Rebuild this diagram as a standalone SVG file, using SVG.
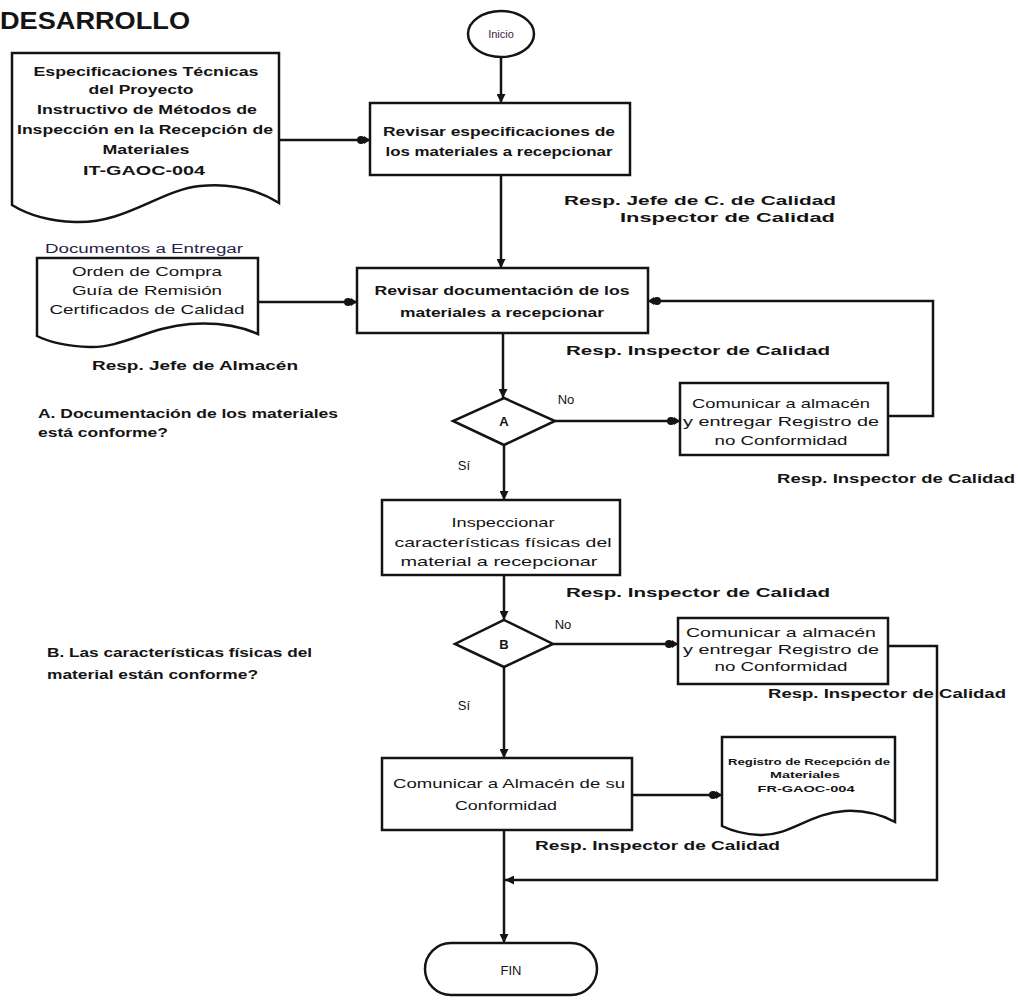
<svg xmlns="http://www.w3.org/2000/svg" width="1018" height="1000" viewBox="0 0 1018 1000">
  <style>
    .shape { fill: #fff; stroke: #141414; stroke-width: 2.5; }
    .wire { fill: none; stroke: #141414; stroke-width: 2.5; }
    text { font-family: "Liberation Sans", Arial, sans-serif; fill: #141414; }
    .t { font-size: 13px; text-anchor: middle; }
    .tb { font-size: 13px; text-anchor: middle; font-weight: bold; }
    .resp { font-size: 13px; font-weight: bold; }
    .q { font-size: 12px; font-weight: bold; }
    .small { font-size: 9px; text-anchor: middle; font-weight: bold; }
  </style>
  <defs>
    <marker id="arrow" viewBox="0 0 10 10" refX="10" refY="5" markerWidth="9" markerHeight="9" markerUnits="userSpaceOnUse" orient="auto">
      <path d="M0,0 L10,5 L0,10 Z" fill="#141414"/>
    </marker>
    <marker id="dotarrow" viewBox="0 0 14 10" refX="14" refY="5" markerWidth="14" markerHeight="10" markerUnits="userSpaceOnUse" orient="auto">
      <circle cx="5" cy="5" r="4" fill="#141414"/>
      <path d="M8,1 L14,5 L8,9 Z" fill="#141414"/>
    </marker>
  </defs>

  <!-- heading -->
  <text x="0" y="29" font-size="23" font-weight="bold" textLength="190" lengthAdjust="spacingAndGlyphs">DESARROLLO</text>

  <!-- connectors -->
  <g id="connectors">
    <line class="wire" x1="501" y1="57" x2="501" y2="103" marker-end="url(#arrow)"/>
    <line class="wire" x1="279" y1="140" x2="370" y2="140" marker-end="url(#dotarrow)"/>
    <line class="wire" x1="501" y1="175" x2="501" y2="268" marker-end="url(#arrow)"/>
    <line class="wire" x1="258" y1="302" x2="357" y2="302" marker-end="url(#dotarrow)"/>
    <line class="wire" x1="503" y1="333" x2="503" y2="398" marker-end="url(#arrow)"/>
    <line class="wire" x1="555" y1="421" x2="680" y2="421" marker-end="url(#dotarrow)"/>
    <polyline class="wire" points="888,416 933,416 933,301 648,301" marker-end="url(#dotarrow)"/>
    <line class="wire" x1="504" y1="445" x2="504" y2="500" marker-end="url(#arrow)"/>
    <line class="wire" x1="504" y1="575" x2="504" y2="620" marker-end="url(#arrow)"/>
    <line class="wire" x1="553" y1="644" x2="678" y2="644" marker-end="url(#dotarrow)"/>
    <line class="wire" x1="504" y1="667" x2="504" y2="758" marker-end="url(#arrow)"/>
    <line class="wire" x1="632" y1="795" x2="722" y2="795" marker-end="url(#dotarrow)"/>
    <line class="wire" x1="504" y1="830" x2="504" y2="943" marker-end="url(#arrow)"/>
    <polyline class="wire" points="888,646 937,646 937,880 505,880" marker-end="url(#arrow)"/>
  </g>

  <!-- start -->
  <g id="inicio">
    <ellipse class="shape" cx="501" cy="34" rx="33" ry="23"/>
    <text class="t" x="501" y="38" style="font-size:11px;fill:#3a1e3e">Inicio</text>
  </g>

  <!-- reference document: specifications -->
  <g id="doc-especificaciones">
    <path class="shape" d="M12,53 H279 V203 C255,188 230,183 200,186 C160,190 125,224 75,222 C45,221 25,213 12,205 Z"/>
    <text class="tb" x="146" y="76" style="font-size:12px" textLength="225" lengthAdjust="spacingAndGlyphs">Especificaciones Técnicas</text>
    <text class="tb" x="141" y="94" style="font-size:12px" textLength="105" lengthAdjust="spacingAndGlyphs">del Proyecto</text>
    <text class="tb" x="147" y="114" style="font-size:12px" textLength="220" lengthAdjust="spacingAndGlyphs">Instructivo de Métodos de</text>
    <text class="tb" x="145" y="134" style="font-size:12px" textLength="256" lengthAdjust="spacingAndGlyphs">Inspección en la Recepción de</text>
    <text class="tb" x="146" y="154" style="font-size:12px" textLength="87" lengthAdjust="spacingAndGlyphs">Materiales</text>
    <text class="tb" x="144" y="175" style="font-size:12px" textLength="122" lengthAdjust="spacingAndGlyphs">IT-GAOC-004</text>
  </g>

  <!-- step: review specifications -->
  <g id="revisar-especificaciones">
    <rect class="shape" x="370" y="103" width="260" height="72"/>
    <text class="tb" x="499" y="136" textLength="232" lengthAdjust="spacingAndGlyphs">Revisar especificaciones de</text>
    <text class="tb" x="499" y="156" textLength="227" lengthAdjust="spacingAndGlyphs">los materiales a recepcionar</text>
  </g>
  <text class="resp" x="564" y="205" textLength="272" lengthAdjust="spacingAndGlyphs">Resp. Jefe de C. de Calidad</text>
  <text class="resp" x="620" y="222" textLength="215" lengthAdjust="spacingAndGlyphs">Inspector de Calidad</text>

  <!-- documents to deliver -->
  <g id="doc-entregar">
    <text x="45" y="253" font-size="12" style="fill:#2a1f4a" textLength="198" lengthAdjust="spacingAndGlyphs">Documentos a Entregar</text>
    <path class="shape" d="M37,258 H258 V334 C240,326 220,322 190,324 C150,327 122,348 90,347 C65,346 47,341 37,336 Z"/>
    <text class="t" x="147" y="276" textLength="150" lengthAdjust="spacingAndGlyphs">Orden de Compra</text>
    <text class="t" x="147" y="295" textLength="150" lengthAdjust="spacingAndGlyphs">Guía de Remisión</text>
    <text class="t" x="147" y="314" textLength="195" lengthAdjust="spacingAndGlyphs">Certificados de Calidad</text>
  </g>
  <text class="resp" x="92" y="370" textLength="206" lengthAdjust="spacingAndGlyphs">Resp. Jefe de Almacén</text>

  <!-- step: review documentation -->
  <g id="revisar-documentacion">
    <rect class="shape" x="357" y="268" width="291" height="65"/>
    <text class="tb" x="502" y="295" textLength="255" lengthAdjust="spacingAndGlyphs">Revisar documentación de los</text>
    <text class="tb" x="502" y="317" textLength="204" lengthAdjust="spacingAndGlyphs">materiales a recepcionar</text>
  </g>
  <text class="resp" x="566" y="355" textLength="264" lengthAdjust="spacingAndGlyphs">Resp. Inspector de Calidad</text>

  <!-- decision A -->
  <g id="decision-a">
    <polygon class="shape" points="504,398 555,421 504,445 453,421"/>
    <text class="tb" x="504" y="426">A</text>
  </g>
  <text class="t" x="566" y="404">No</text>
  <text class="q" x="38" y="418" textLength="300" lengthAdjust="spacingAndGlyphs">A. Documentación de los materiales</text>
  <text class="q" x="38" y="437" textLength="130" lengthAdjust="spacingAndGlyphs">está conforme?</text>

  <!-- step: non-conformity A -->
  <g id="no-conformidad-a">
    <rect class="shape" x="680" y="383" width="208" height="72"/>
    <text class="t" x="781" y="408" textLength="178" lengthAdjust="spacingAndGlyphs">Comunicar a almacén</text>
    <text class="t" x="781" y="426" textLength="196" lengthAdjust="spacingAndGlyphs">y entregar Registro de</text>
    <text class="t" x="781" y="445" textLength="133" lengthAdjust="spacingAndGlyphs">no Conformidad</text>
  </g>
  <text class="resp" x="777" y="483" textLength="238" lengthAdjust="spacingAndGlyphs">Resp. Inspector de Calidad</text>
  <text class="t" x="464" y="470">Sí</text>

  <!-- step: inspect physical characteristics -->
  <g id="inspeccionar">
    <rect class="shape" x="382" y="500" width="238" height="75"/>
    <text class="t" x="503" y="527" textLength="103" lengthAdjust="spacingAndGlyphs">Inspeccionar</text>
    <text class="t" x="503" y="547" textLength="217" lengthAdjust="spacingAndGlyphs">características físicas del</text>
    <text class="t" x="499" y="566" textLength="197" lengthAdjust="spacingAndGlyphs">material a recepcionar</text>
  </g>
  <text class="resp" x="566" y="597" textLength="264" lengthAdjust="spacingAndGlyphs">Resp. Inspector de Calidad</text>

  <!-- decision B -->
  <g id="decision-b">
    <polygon class="shape" points="504,620 553,644 504,667 455,644"/>
    <text class="tb" x="504" y="649">B</text>
  </g>
  <text class="t" x="563" y="629">No</text>
  <text class="q" x="47" y="657" textLength="265" lengthAdjust="spacingAndGlyphs">B. Las características físicas del</text>
  <text class="q" x="47" y="679" textLength="211" lengthAdjust="spacingAndGlyphs">material están conforme?</text>

  <!-- step: non-conformity B -->
  <g id="no-conformidad-b">
    <rect class="shape" x="678" y="618" width="210" height="66"/>
    <text class="t" x="781" y="637" textLength="190" lengthAdjust="spacingAndGlyphs">Comunicar a almacén</text>
    <text class="t" x="781" y="654" textLength="196" lengthAdjust="spacingAndGlyphs">y entregar Registro de</text>
    <text class="t" x="781" y="671" textLength="133" lengthAdjust="spacingAndGlyphs">no Conformidad</text>
  </g>
  <text class="resp" x="768" y="698" textLength="238" lengthAdjust="spacingAndGlyphs">Resp. Inspector de Calidad</text>
  <text class="t" x="464" y="710">Sí</text>

  <!-- step: notify conformity -->
  <g id="comunicar-conformidad">
    <rect class="shape" x="382" y="758" width="250" height="72"/>
    <text class="t" x="509" y="788" textLength="232" lengthAdjust="spacingAndGlyphs">Comunicar a Almacén de su</text>
    <text class="t" x="506" y="810" textLength="102" lengthAdjust="spacingAndGlyphs">Conformidad</text>
  </g>

  <!-- output document: reception record -->
  <g id="doc-registro">
    <path class="shape" d="M722,737 H895 V822 C880,814 865,810 845,811 C810,813 790,836 760,835 C740,834 728,829 722,826 Z"/>
    <text class="small" x="809" y="765" textLength="162" lengthAdjust="spacingAndGlyphs">Registro de Recepción de</text>
    <text class="small" x="805" y="778" textLength="70" lengthAdjust="spacingAndGlyphs">Materiales</text>
    <text class="small" x="806" y="792" textLength="97" lengthAdjust="spacingAndGlyphs">FR-GAOC-004</text>
  </g>
  <text class="resp" x="535" y="850" textLength="245" lengthAdjust="spacingAndGlyphs">Resp. Inspector de Calidad</text>

  <!-- end -->
  <g id="fin">
    <rect class="shape" x="425" y="943" width="172" height="52" rx="26" ry="26"/>
    <text class="t" x="511" y="975">FIN</text>
  </g>
</svg>
